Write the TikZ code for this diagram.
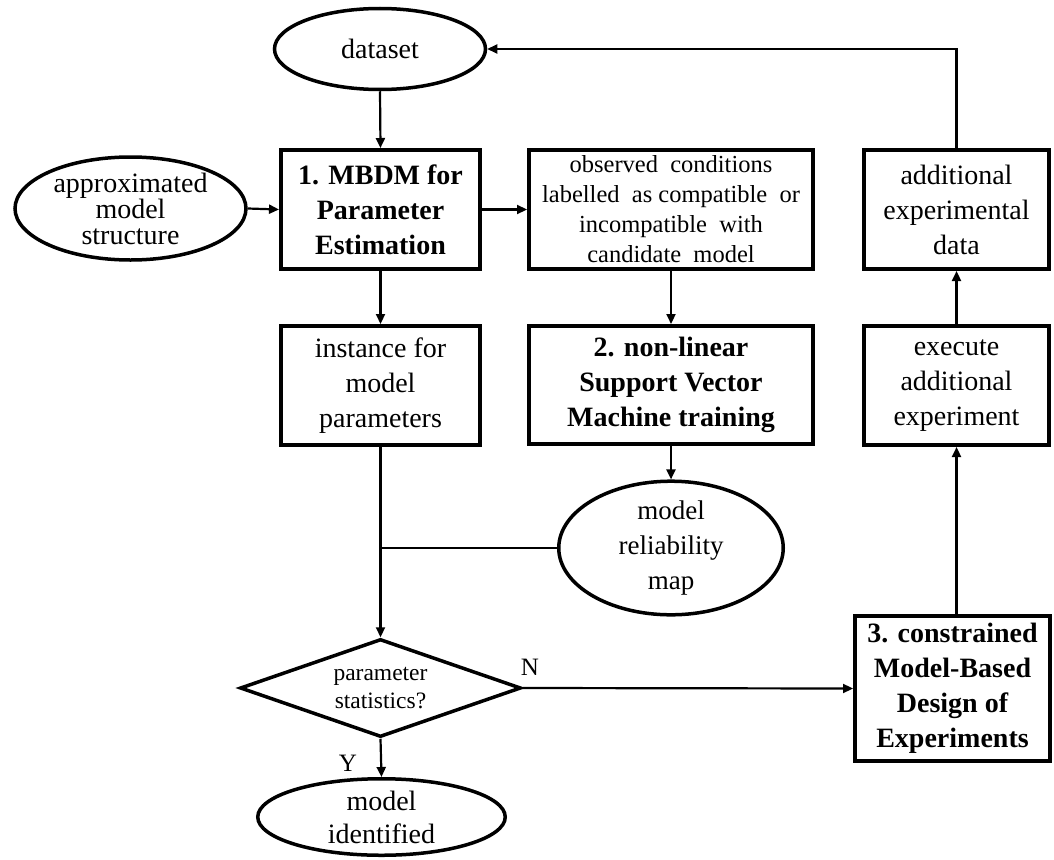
\documentclass[tikz,border=0pt]{standalone}
\usepackage{fontspec}
\setmainfont{Liberation Serif}
\usetikzlibrary{shapes.geometric,arrows.meta}

\tikzset{
  txt/.style={font=\fontsize{28}{35}\selectfont, align=center},
  boldtxt/.style={font=\fontsize{28}{35}\selectfont\bfseries, align=center},
  box/.style={draw, rectangle, line width=4pt, inner sep=0pt},
  oval/.style={draw, ellipse, line width=3.5pt, inner sep=0pt},
  decision/.style={draw, diamond, shape aspect=2.8, line width=3.5pt, inner sep=0pt},
  conn/.style={line width=2.2pt},
  arr/.style={conn, -{Triangle[length=10pt,width=9pt]}},
  yn/.style={font=\fontsize{25}{30}\selectfont, inner sep=0pt}
}

\begin{document}
\begin{tikzpicture}[x=1pt,y=-1pt]
  \useasboundingbox (0,0) rectangle (1054,859);

  % top row
  \node[oval, txt, minimum width=211pt, minimum height=81pt] (data) at (380,49) {dataset};
  \node[oval, txt, font=\fontsize{28}{26}\selectfont, minimum width=231pt, minimum height=103pt] (approx) at (130.5,208.5)
    {approximated\\model\\structure};
  \node[box, boldtxt, minimum width=199pt, minimum height=119pt] (mbdm) at (380.5,209.5)
    {1. MBDM for\\Parameter\\Estimation};
  \node[box, txt, font=\fontsize{24.5}{30}\selectfont, minimum width=284pt, minimum height=119pt] (obs) at (671,209.5)
    {observed\ \ conditions\\labelled\ \ as compatible\ \ or\\incompatible\ \ with\\candidate\ \ model};
  \node[box, txt, minimum width=185pt, minimum height=119pt] (add) at (956.5,209.5)
    {additional\\experimental\\data};

  % second row
  \node[box, txt, minimum width=199pt, minimum height=119pt] (inst) at (380.5,385.5)
    {instance for\\model\\parameters};
  \node[box, boldtxt, minimum width=284pt, minimum height=118pt] (svm) at (671,385)
    {2. non-linear\\Support Vector\\Machine training};
  \node[box, txt, minimum width=185pt, minimum height=119pt] (exec) at (956.5,385.5)
    {execute\\additional\\experiment};

  % lower part
  \node[oval, txt, font=\fontsize{27}{35}\selectfont, minimum width=224.5pt, minimum height=106.5pt] (rel) at (671,548)
    {model\\reliability\\map};
  \node[decision, txt, font=\fontsize{23.5}{28}\selectfont, minimum width=281pt, minimum height=98pt] (dec) at (380.5,688)
    {parameter\\statistics?};
  \node[box, boldtxt, minimum width=195pt, minimum height=145pt] (mbdoe) at (952.5,688.5)
    {3. constrained\\Model-Based\\Design of\\Experiments};
  \node[oval, txt, font=\fontsize{28}{33}\selectfont, minimum width=247.5pt, minimum height=76.5pt] (ident) at (381.5,817)
    {model\\identified};

  \node[yn] (nlab) at (530,667) {N};
  \node[yn] (ylab) at (348,763) {Y};

  % connectors
  \draw[arr] (data.south) -- (mbdm.north);
  \draw[arr] (approx.east) -- (mbdm.west);
  \draw[arr] (mbdm.east) -- (obs.west);
  \draw[arr] (mbdm.south) -- (inst.north);
  \draw[arr] (obs.south) -- (svm.north);
  \draw[arr] (svm.south) -- (rel.north);
  \draw[arr] (inst.south) -- (dec.north);
  \draw[conn] (rel.west) -- (rel.west -| inst.south);
  \draw[arr] (dec.south) -- (ident.north);
  \draw[arr] (dec.east) -- (mbdoe.west);
  \draw[arr] (mbdoe.north -| exec.south) -- (exec.south);
  \draw[arr] (exec.north) -- (add.south);
  \draw[arr] (add.north) |- (data.east);
\end{tikzpicture}
\end{document}
